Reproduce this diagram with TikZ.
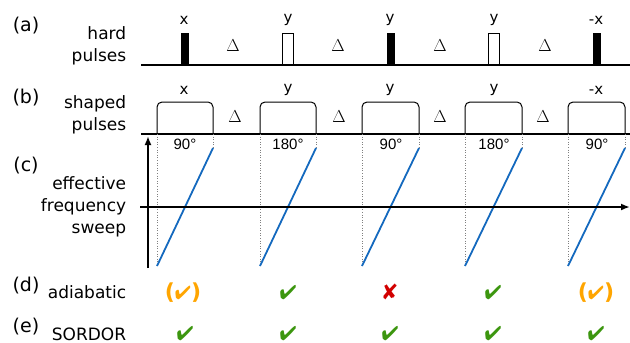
\documentclass[tikz,border=0pt]{standalone}
\usepackage{fontspec}
\usepackage{pifont}
\setmainfont{DejaVu Sans}
\newfontfamily\anglefont{Liberation Sans}
\usetikzlibrary{arrows.meta}
\definecolor{sweepblue}{RGB}{20,105,190}
\definecolor{okgreen}{RGB}{60,150,15}
\definecolor{partorange}{RGB}{255,165,0}
\definecolor{badred}{RGB}{210,0,0}
\newcommand{\partok}{{\bfseries\fontsize{22}{22}\selectfont(}\ding{52}{\bfseries\fontsize{22}{22}\selectfont)}}
\begin{document}
\begin{tikzpicture}[x=1pt,y=-1pt,line width=1pt,
  rowlabel/.style={font=\fontsize{19}{22}\selectfont},
  rowtext/.style={font=\fontsize{17}{22}\selectfont,align=right,anchor=east},
  phase/.style={font=\fontsize{15}{16}\selectfont},
  angle/.style={font=\anglefont\fontsize{15}{16}\selectfont},
  delay/.style={font=\fontsize{16}{16}\selectfont},
  okmark/.style={text=okgreen,font=\fontsize{20}{20}\selectfont},
  partmark/.style={text=partorange,inner xsep=0pt,font=\fontsize{19}{20}\selectfont},
  badmark/.style={text=badred,font=\fontsize{22}{22}\selectfont},
  axis/.style={line width=2pt,-{Latex[length=9pt,width=7pt]}}]
 \useasboundingbox (0,0) rectangle (630,343);
 \node[rowlabel] (lbla) at (26,26) {(a)};
 \node[rowlabel] (lblb) at (26,98) {(b)};
 \node[rowlabel] (lblc) at (26,166) {(c)};
 \node[rowlabel] (lbld) at (26,286) {(d)};
 \node[rowlabel] (lble) at (26,327) {(e)};
 \node[rowtext] (hard) at (130,46) {hard\\pulses};
 \node[rowtext] (shaped) at (130,115) {shaped\\pulses};
 \node[rowtext] (sweep) at (130,207) {effective\\frequency\\sweep};
 \node[rowtext,anchor=base east] (adiab) at (130,298) {adiabatic};
 \node[rowtext,anchor=base east] (sordor) at (130,340) {SORDOR};
 \draw[fill=black] (181,65) rectangle (188,33);
 \draw[fill=white] (282,65) rectangle (293,33);
 \draw[fill=black] (387,65) rectangle (394,33);
 \draw[fill=white] (488,65) rectangle (499,33);
 \draw[fill=black] (593,65) rectangle (600,33);
 \draw[line width=1.4pt] (141,65) -- (630,65);
 \node[phase] (pha1) at (184,20) {x};
 \node[phase] (pha2) at (288,20) {y};
 \node[phase] (pha3) at (390,20) {y};
 \node[phase] (pha4) at (494,20) {y};
 \node[phase] (pha5) at (596,20) {-x};
 \node[delay] (dla1) at (233,46) {$\Delta$};
 \node[delay] (dla2) at (338,46) {$\Delta$};
 \node[delay] (dla3) at (440,46) {$\Delta$};
 \node[delay] (dla4) at (545,46) {$\Delta$};
 \draw[rounded corners=5pt] (157,134) -- (157,102) -- (213,102) -- (213,134);
 \draw[rounded corners=5pt] (260,134) -- (260,102) -- (316,102) -- (316,134);
 \draw[rounded corners=5pt] (362,134) -- (362,102) -- (419,102) -- (419,134);
 \draw[rounded corners=5pt] (465,134) -- (465,102) -- (522,102) -- (522,134);
 \draw[rounded corners=5pt] (568,134) -- (568,102) -- (625,102) -- (625,134);
 \draw[line width=1.4pt] (141,134) -- (630,134);
 \node[phase] (phb1) at (184,90) {x};
 \node[phase] (phb2) at (288,90) {y};
 \node[phase] (phb3) at (390,90) {y};
 \node[phase] (phb4) at (494,90) {y};
 \node[phase] (phb5) at (596,90) {-x};
 \node[delay] (dlb1) at (235,117) {$\Delta$};
 \node[delay] (dlb2) at (339,117) {$\Delta$};
 \node[delay] (dlb3) at (440,117) {$\Delta$};
 \node[delay] (dlb4) at (543,117) {$\Delta$};
 \foreach \a/\b in {157/213,260/316,362/419,465/522,568/625}{
  \draw[gray,dotted,line width=0.6pt] (\a,134) -- (\a,266);
  \draw[gray,dotted,line width=0.6pt] (\b,134) -- (\b,148);
  \draw[sweepblue,line width=1.8pt] (\a,266) -- (\b,148);
 }
 \node[angle] (ang1) at (185,144) {90°};
 \node[angle] (ang2) at (288,144) {180°};
 \node[angle] (ang3) at (391,144) {90°};
 \node[angle] (ang4) at (494,144) {180°};
 \node[angle] (ang5) at (597,144) {90°};
 \draw[axis] (148,268) -- (148,136);
 \draw[axis] (140,207) -- (630,207);
 \node[partmark] (ad1) at (183,293) {\partok};
 \node[okmark] (ad2) at (288,293) {\ding{52}};
 \node[badmark] (ad3) at (390,292) {\ding{56}};
 \node[okmark] (ad4) at (493,293) {\ding{52}};
 \node[partmark] (ad5) at (596,293) {\partok};
 \node[okmark] (so1) at (185,334) {\ding{52}};
 \node[okmark] (so2) at (288,334) {\ding{52}};
 \node[okmark] (so3) at (390,334) {\ding{52}};
 \node[okmark] (so4) at (493,334) {\ding{52}};
 \node[okmark] (so5) at (596,334) {\ding{52}};
\end{tikzpicture}
\end{document}
